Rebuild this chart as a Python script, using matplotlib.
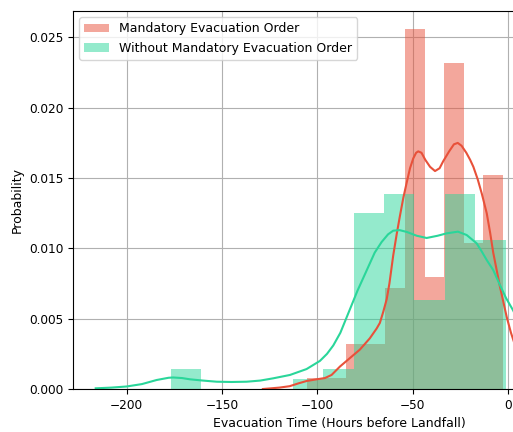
import numpy as np
import matplotlib
matplotlib.use('Agg')
import matplotlib.pyplot as plt

# histogram bins (hours before landfall) and densities
mand_edges = [-105.5, -95.2, -85.0, -74.7, -64.4, -54.1, -43.9, -33.6, -23.3, -13.1, -2.8]
mand_density = [0.0008, 0.0008, 0.0032, 0.0032, 0.0072, 0.0256, 0.0080, 0.0232, 0.0104, 0.0152]

nomand_edges = [-176.9, -160.9, -145.0, -129.0, -113.0, -97.0, -81.1, -65.1, -49.2, -33.2, -17.3, -1.2]
nomand_density = [0.0014, 0.0, 0.0, 0.0, 0.0007, 0.0014, 0.0125, 0.0139, 0.0063, 0.0139, 0.0106]

# kde curves
mand_kde_x = [-128.6, -120.0, -114.6, -110.0, -105.7, -100.0, -96.1, -92.6, -88.2, -83.0, -77.8,
              -72.6, -69.0, -67.3, -65.5, -63.7, -62.3, -61.1, -60.3, -58.5, -56.8, -55.0,
              -53.2, -51.5, -49.8, -48.3, -47.2, -45.5, -43.5, -41.0, -38.4, -36.0, -34.1,
              -31.0, -28.5, -26.5, -24.5, -22.0, -20.0, -18.3, -16.0, -13.9, -11.3, -9.5,
              -7.9, -4.4, -0.8, 1.4, 5.0]
mand_kde_y = [0.0000, 0.0001, 0.0002, 0.0004, 0.00057, 0.0007, 0.00078, 0.0010, 0.0016, 0.0022, 0.0028,
              0.0036, 0.0043, 0.0047, 0.0055, 0.0064, 0.0075, 0.0087, 0.0095, 0.0110, 0.0123, 0.0136,
              0.0147, 0.0157, 0.0164, 0.0168, 0.0169, 0.0168, 0.0163, 0.0158, 0.0155, 0.0157, 0.0162,
              0.0169, 0.0174, 0.0175, 0.0173, 0.0168, 0.0163, 0.0158, 0.0149, 0.0139, 0.0125, 0.0111,
              0.0097, 0.0073, 0.0051, 0.0040, 0.0025]

nomand_kde_x = [-216.2, -208.0, -200.0, -192.0, -184.3, -178.0, -175.6, -171.0, -166.8, -160.0,
                -152.8, -145.0, -137.1, -130.0, -123.2, -114.4, -105.7, -98.7, -95.0, -91.7,
                -88.0, -85.0, -82.0, -79.0, -76.0, -73.0, -70.0, -66.4, -63.0, -60.3, -57.0,
                -53.2, -48.0, -42.8, -37.0, -32.3, -26.4, -21.8, -16.6, -14.0, -11.3, -7.9,
                -4.4, -1.2, 2.5, 6.0]
nomand_kde_y = [0.00005, 0.0001, 0.00018, 0.00035, 0.00064, 0.0008, 0.00082, 0.00078, 0.00069, 0.0006,
                0.00052, 0.0005, 0.00052, 0.0006, 0.00076, 0.0010, 0.00142, 0.0020, 0.0025, 0.0031,
                0.0040, 0.0050, 0.0060, 0.0070, 0.0079, 0.0088, 0.0097, 0.01045, 0.0110, 0.01126, 0.0113,
                0.01117, 0.0109, 0.01074, 0.0109, 0.01107, 0.01119, 0.01095, 0.01036, 0.0098, 0.00917, 0.00846,
                0.0074, 0.00647, 0.0056, 0.0046]

red = '#e8513a'
green = '#2ad69a'

plt.rcParams['font.size'] = 9

fig = plt.figure(figsize=(5.13, 4.32), dpi=100)
ax = fig.add_axes([0.1423, 0.0995, 1.039, 0.875])

ax.bar(mand_edges[:-1], mand_density, width=np.diff(mand_edges), align='edge',
       color=red, alpha=0.5, linewidth=0, label='Mandatory Evacuation Order')
ax.bar(nomand_edges[:-1], nomand_density, width=np.diff(nomand_edges), align='edge',
       color=green, alpha=0.5, linewidth=0, label='Without Mandatory Evacuation Order')
ax.plot(mand_kde_x, mand_kde_y, color=red, lw=1.5)
ax.plot(nomand_kde_x, nomand_kde_y, color=green, lw=1.5)

ax.set_xlim(-228.1, 51.2)
ax.set_ylim(0, 0.02688)
ax.set_xticks([-200, -150, -100, -50, 0, 50])
ax.set_yticks([0, 0.005, 0.010, 0.015, 0.020, 0.025])
ax.yaxis.set_major_formatter(matplotlib.ticker.FormatStrFormatter('%.3f'))
ax.tick_params(labelsize=8.7)
ax.grid(True, color='#b0b0b0', lw=0.8)
ax.set_axisbelow(True)

ax.set_xlabel('Evacuation Time (Hours before Landfall)')
ax.set_ylabel('Probability')
ax.legend(loc='upper left')

fig.savefig('out.png', dpi=100)
